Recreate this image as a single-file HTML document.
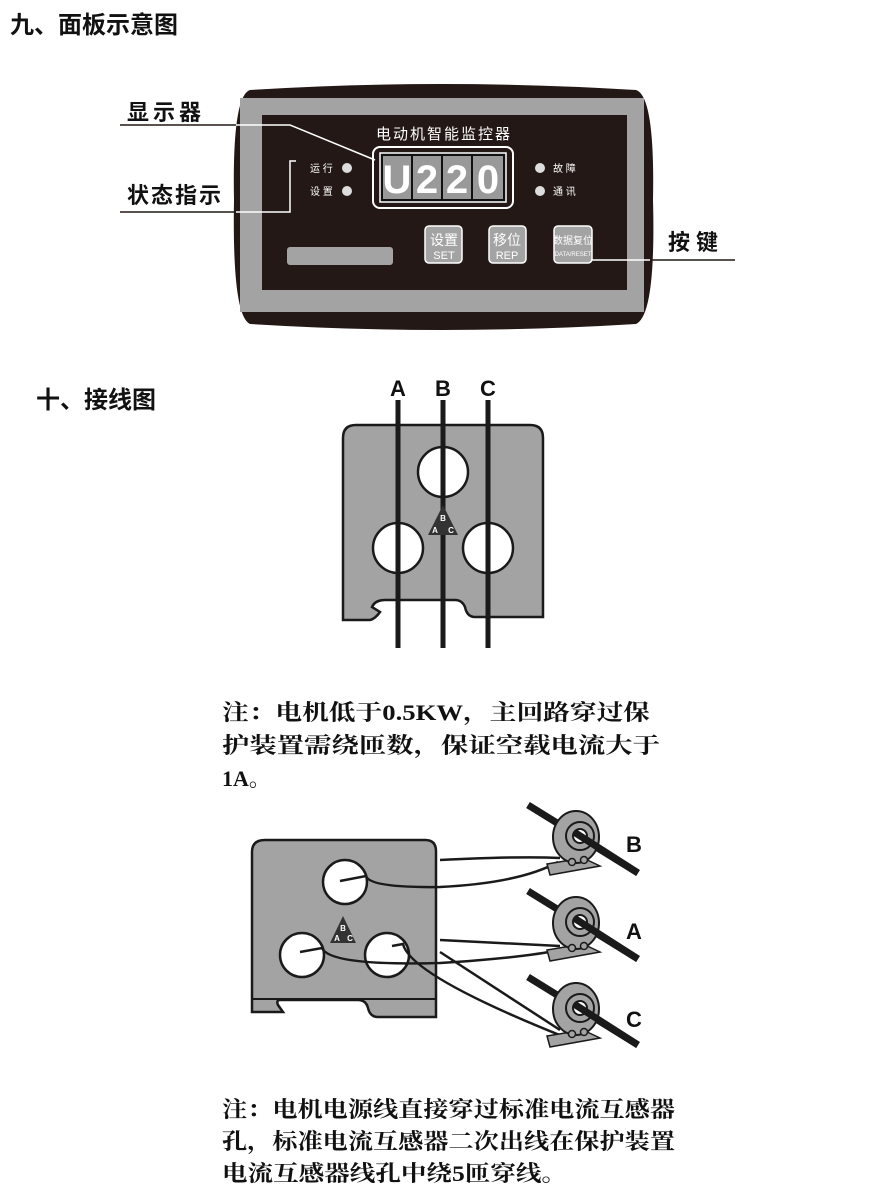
<!DOCTYPE html>
<html><head><meta charset="utf-8"><style>
body{margin:0;background:#fff;}
svg{display:block}
text{font-family:"Liberation Sans","Noto Sans CJK SC",sans-serif;}
.n{font-family:"Liberation Serif","Noto Serif CJK SC",serif;font-weight:bold;font-size:22px;fill:#111}
</style></head><body>
<svg width="880" height="1196" viewBox="0 0 880 1196" xmlns="http://www.w3.org/2000/svg">
<text x="10" y="33" font-size="24" font-weight="bold" fill="#111">九、面板示意图</text>
<!-- panel -->
<path d="M250,90 Q440,78 636,90 Q655,96 653,200 Q656,315 636,324 Q440,336 250,324 Q232,316 234,200 Q232,96 250,90Z" fill="#231815"/>
<rect x="240" y="98" width="404" height="214" fill="#a3a3a3"/>
<rect x="262" y="115" width="365" height="175" fill="#231815"/>
<text x="444" y="139" font-size="15" fill="#fff" text-anchor="middle" letter-spacing="2">电动机智能监控器</text>
<rect x="373" y="147" width="140" height="61" rx="7" fill="#231815" stroke="#fff" stroke-width="2"/>
<rect x="380" y="153" width="126" height="49" fill="#111" stroke="#fff" stroke-width="1.5"/>
<g fill="#999"><rect x="383" y="156" width="28" height="43"/><rect x="413" y="156" width="28" height="43"/><rect x="443" y="156" width="28" height="43"/><rect x="473" y="156" width="30" height="43"/></g>
<g font-size="40" fill="#fff" font-weight="bold" text-anchor="middle"><text x="397" y="193">U</text><text x="427" y="193">2</text><text x="457" y="193">2</text><text x="488" y="193">0</text></g>
<g font-size="10" fill="#fff"><text x="310" y="172">运 行</text><text x="310" y="195">设 置</text><text x="553" y="172">故 障</text><text x="553" y="195">通 讯</text></g>
<g fill="#ddd"><circle cx="347" cy="168" r="5"/><circle cx="347" cy="191" r="5"/><circle cx="540" cy="168" r="5"/><circle cx="540" cy="191" r="5"/></g>
<rect x="287" y="247" width="106" height="18" rx="3" fill="#a3a3a3"/>
<g fill="#a3a3a3" stroke="#fff" stroke-width="1.5"><rect x="425" y="226" width="37" height="37" rx="4"/><rect x="489" y="226" width="37" height="37" rx="4"/><rect x="554" y="226" width="38" height="37" rx="4"/></g>
<g fill="#fff" text-anchor="middle"><text x="444" y="245" font-size="14">设置</text><text x="444" y="259" font-size="11">SET</text><text x="507" y="245" font-size="14">移位</text><text x="507" y="259" font-size="11">REP</text><text x="573" y="244" font-size="10">数据复位</text><text x="573" y="256" font-size="6">DATA/RESET</text></g>
<g stroke="#fff" stroke-width="1.5" fill="none"><polyline points="236,125 290,125 375,160"/><polyline points="236,212 290,212 290,161 296,161"/><polyline points="592,260 650,260"/></g>
<g stroke="#231815" stroke-width="1.5" fill="none"><line x1="120" y1="125" x2="236" y2="125"/><line x1="120" y1="212" x2="236" y2="212"/><line x1="650" y1="260" x2="735" y2="260"/></g>
<g font-size="22" fill="#111" font-weight="bold"><text x="127" y="120" letter-spacing="4">显示器</text><text x="127" y="203" letter-spacing="2">状态指示</text><text x="668" y="250" letter-spacing="6">按键</text></g>

<text x="36" y="408" font-size="24" font-weight="bold" fill="#111">十、接线图</text>
<!-- diagram 1 -->
<g stroke="#1a1a1a" stroke-width="2.5">
<path d="M356,425 L530,425 Q543,425 543,438 L543,617 L475,617 Q467,617 465,607 Q462,600 455,600 L385,600 Q375,600 372,607 L380,612 Q375,619 370,620 L343,620 L343,438 Q343,425 356,425Z" fill="#a3a3a3"/>
</g>
<g stroke="#1a1a1a" stroke-width="5"><line x1="398" y1="400" x2="398" y2="648"/><line x1="443" y1="400" x2="443" y2="648"/><line x1="488" y1="400" x2="488" y2="648"/></g>
<g fill="#fff" stroke="#1a1a1a" stroke-width="2.5"><circle cx="443" cy="472" r="25"/><circle cx="398" cy="548" r="25"/><circle cx="488" cy="548" r="25"/></g>
<g stroke="#1a1a1a" stroke-width="5"><line x1="398" y1="523" x2="398" y2="573"/><line x1="443" y1="447" x2="443" y2="497"/><line x1="488" y1="523" x2="488" y2="573"/></g>
<polygon points="443,505 428,535 458,535" fill="#333"/>
<g font-size="8" fill="#fff" font-weight="bold" text-anchor="middle"><text x="443" y="521">B</text><text x="435" y="533">A</text><text x="451" y="533">C</text></g>
<g font-size="22" font-weight="bold" fill="#111" text-anchor="middle"><text x="398" y="396">A</text><text x="443" y="396">B</text><text x="488" y="396">C</text></g>

<text class="n" x="222" y="720" textLength="428" lengthAdjust="spacingAndGlyphs">注：电机低于0.5KW，主回路穿过保</text>
<text class="n" x="222" y="753" textLength="438" lengthAdjust="spacingAndGlyphs">护装置需绕匝数，保证空载电流大于</text>
<text class="n" x="222" y="786">1A。</text>

<!-- diagram 2 -->
<path d="M265,840 L425,840 Q436,840 436,851 L436,1017 L378,1017 Q370,1017 368,1008 Q366,1000 358,1000 L280,1000 Q276,1000 278,1005 L283,1012 L252,1012 L252,852 Q252,840 265,840Z" fill="#a3a3a3" stroke="#1a1a1a" stroke-width="2.5"/>
<line x1="252" y1="999" x2="436" y2="999" stroke="#1a1a1a" stroke-width="2"/>
<g fill="#fff" stroke="#1a1a1a" stroke-width="2.5"><circle cx="345" cy="882" r="22"/><circle cx="302" cy="955" r="22"/><circle cx="387" cy="955" r="22"/></g>
<polygon points="343,916 330,943 356,943" fill="#333"/>
<g font-size="8" fill="#fff" font-weight="bold" text-anchor="middle"><text x="343" y="931">B</text><text x="337" y="941">A</text><text x="350" y="941">C</text></g>
<g fill="none" stroke="#1a1a1a" stroke-width="2.5">
<path d="M440,860 Q520,856 560,858"/><path d="M340,881 L366,876 Q370,888 440,887 Q520,883 558,862"/>
<path d="M440,940 Q520,944 560,946"/><path d="M300,952 L322,948 Q330,966 440,963 Q520,958 560,950"/>
<path d="M440,952 L560,1030"/><path d="M392,946 L403,944 Q410,975 562,1036"/>
</g>
<g id="ct">
<line x1="528" y1="805" x2="638" y2="873" stroke="#1a1a1a" stroke-width="7"/>
<path d="M547,864 L583,858 L600,866 L550,875Z" fill="#a3a3a3" stroke="#1a1a1a" stroke-width="1.5"/>
<ellipse cx="576" cy="837" rx="23" ry="26" fill="#a3a3a3" stroke="#1a1a1a" stroke-width="2"/>
<circle cx="580" cy="836" r="14" fill="#a3a3a3" stroke="#1a1a1a" stroke-width="2"/>
<circle cx="580" cy="836" r="7" fill="#fff" stroke="#1a1a1a" stroke-width="2"/>
<line x1="574" y1="832" x2="638" y2="873" stroke="#1a1a1a" stroke-width="7"/>
<circle cx="572" cy="862" r="3.5" fill="#a3a3a3" stroke="#1a1a1a" stroke-width="1.5"/><circle cx="584" cy="860" r="3.5" fill="#a3a3a3" stroke="#1a1a1a" stroke-width="1.5"/>
</g>
<use href="#ct" transform="translate(0,86)"/>
<use href="#ct" transform="translate(0,172)"/>
<g font-size="22" font-weight="bold" fill="#111"><text x="626" y="852">B</text><text x="626" y="939">A</text><text x="626" y="1027">C</text></g>

<text class="n" x="222" y="1117" textLength="453" lengthAdjust="spacingAndGlyphs">注：电机电源线直接穿过标准电流互感器</text>
<text class="n" x="222" y="1149" textLength="453" lengthAdjust="spacingAndGlyphs">孔，标准电流互感器二次出线在保护装置</text>
<text class="n" x="222" y="1181" textLength="345" lengthAdjust="spacingAndGlyphs">电流互感器线孔中绕5匝穿线。</text>
</svg>
</body></html>
